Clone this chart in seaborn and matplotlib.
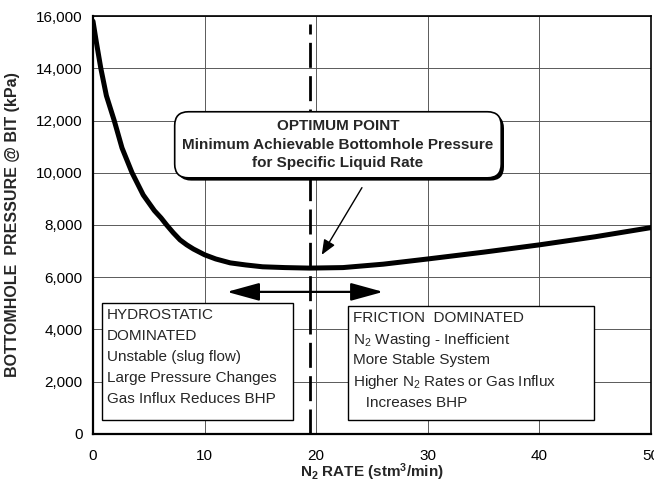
import matplotlib
matplotlib.use("Agg")
import matplotlib.pyplot as plt
import matplotlib.patheffects as pe
from matplotlib.patches import Rectangle
from matplotlib.ticker import FuncFormatter
import seaborn as sns
import pandas as pd

# ---- data ----
n2_rate = [0, 0.3, 0.7, 1.2, 1.9, 2.6, 3.5, 4.5, 5.5, 6.1, 6.6, 7.2, 7.8, 8.4, 9.0,
           10, 11, 12.3, 13.7, 15.2, 17.2, 19.4, 22.4, 26, 30, 35, 40, 45, 50]
bhp = [15800, 15000, 14000, 12950, 12000, 10950, 10000, 9150, 8550, 8270, 8000,
       7700, 7430, 7240, 7080, 6860, 6700, 6550, 6470, 6400, 6370, 6350, 6370,
       6500, 6700, 6960, 7240, 7550, 7900]
optimum_rate = 19.4
x_ticks = [0, 10, 20, 30, 40, 50]
y_ticks = [0, 2000, 4000, 6000, 8000, 10000, 12000, 14000, 16000]

callout_text = "OPTIMUM POINT\nMinimum Achievable Bottomhole Pressure\nfor Specific Liquid Rate"
left_text = ("HYDROSTATIC\nDOMINATED\nUnstable (slug flow)\n"
             "Large Pressure Changes\nGas Influx Reduces BHP")
right_text = ("FRICTION  DOMINATED\n$\\mathrm{N}_\\mathrm{2}$ Wasting - Inefficient\n"
              "More Stable System\nHigher $\\mathrm{N}_\\mathrm{2}$ Rates or Gas Influx\n"
              "   Increases BHP")
x_label = r"$\mathbf{N_2}$ RATE (stm$^\mathbf{3}$/min)"
y_label = "BOTTOMHOLE  PRESSURE @ BIT (kPa)"

df = pd.DataFrame({"rate": n2_rate, "bhp": bhp})

sns.set_theme(style="white")
plt.rcParams["font.family"] = ["Liberation Sans", "DejaVu Sans"]
plt.rcParams["mathtext.fontset"] = "custom"
plt.rcParams["mathtext.rm"] = "Liberation Sans"
plt.rcParams["mathtext.bf"] = "Liberation Sans:bold"
plt.rcParams["mathtext.default"] = "regular"

fig = plt.figure(figsize=(6.54, 4.82), dpi=100)
ax = fig.add_axes([0.1422, 0.0996, 0.8532, 0.8672])

ax.set_xlim(0, 50)
ax.set_ylim(0, 16000)
ax.set_xticks(x_ticks)
ax.set_yticks(y_ticks)
ax.yaxis.set_major_formatter(FuncFormatter(lambda v, p: f"{int(v):,}"))
ax.grid(True, color="0.35", lw=0.7)
ax.set_axisbelow(True)

sns.lineplot(data=df, x="rate", y="bhp", color="black", lw=3.6, ax=ax,
             solid_joinstyle="round", solid_capstyle="round", zorder=4)

ax.plot([optimum_rate, optimum_rate], [0, 15700], color="black", lw=2.0,
        dashes=(9, 3), zorder=3)

for s in ax.spines.values():
    s.set_color("black")
    s.set_linewidth(1.2)
ax.spines["left"].set_linewidth(1.6)
ax.spines["bottom"].set_linewidth(1.6)

ax.tick_params(axis="both", direction="inout", length=7, width=1.0,
               colors="black", labelsize=11)
ax.tick_params(axis="x", pad=7)
ax.tick_params(axis="y", pad=4)

ax.set_xlabel(x_label, fontsize=11, fontweight="bold", labelpad=-1)
ax.set_ylabel(y_label, fontsize=11.5, fontweight="bold")
ax.yaxis.set_label_coords(-0.131, 0.5)

# callout
t = ax.text(21.95, 11070, callout_text, ha="center", va="center", fontsize=11,
            fontweight="bold", linespacing=1.4, zorder=6,
            bbox=dict(boxstyle="round,pad=0.5,rounding_size=0.9", fc="white",
                      ec="black", lw=1.2))
t.get_bbox_patch().set_path_effects([
    pe.SimplePatchShadow(offset=(2, -2), shadow_rgbFace="black", alpha=1.0),
    pe.Normal()])

ax.annotate("", xy=(20.5, 6860), xytext=(24.1, 9430),
            arrowprops=dict(arrowstyle="-|>,head_length=0.6,head_width=0.25",
                            mutation_scale=15, color="black", lw=1.0,
                            shrinkA=0, shrinkB=0), zorder=5)

ax.annotate("", xy=(12.0, 5440), xytext=(26.0, 5440),
            arrowprops=dict(arrowstyle="<|-|>,head_length=0.8,head_width=0.22",
                            mutation_scale=25, color="black", lw=1.6,
                            shrinkA=0, shrinkB=0), zorder=5)

# text boxes
ax.add_patch(Rectangle((0.8, 540), 17.1, 4480, fc="white", ec="black",
                       lw=1.0, zorder=5))
ax.text(1.25, 4830, left_text, ha="left", va="top", fontsize=11,
        linespacing=1.65, zorder=6)

ax.add_patch(Rectangle((22.85, 540), 22.05, 4360, fc="white", ec="black",
                       lw=1.0, zorder=5))
ax.text(23.3, 4720, right_text, ha="left", va="top", fontsize=11,
        linespacing=1.45, zorder=6)

fig.savefig("out.png", dpi=100)
